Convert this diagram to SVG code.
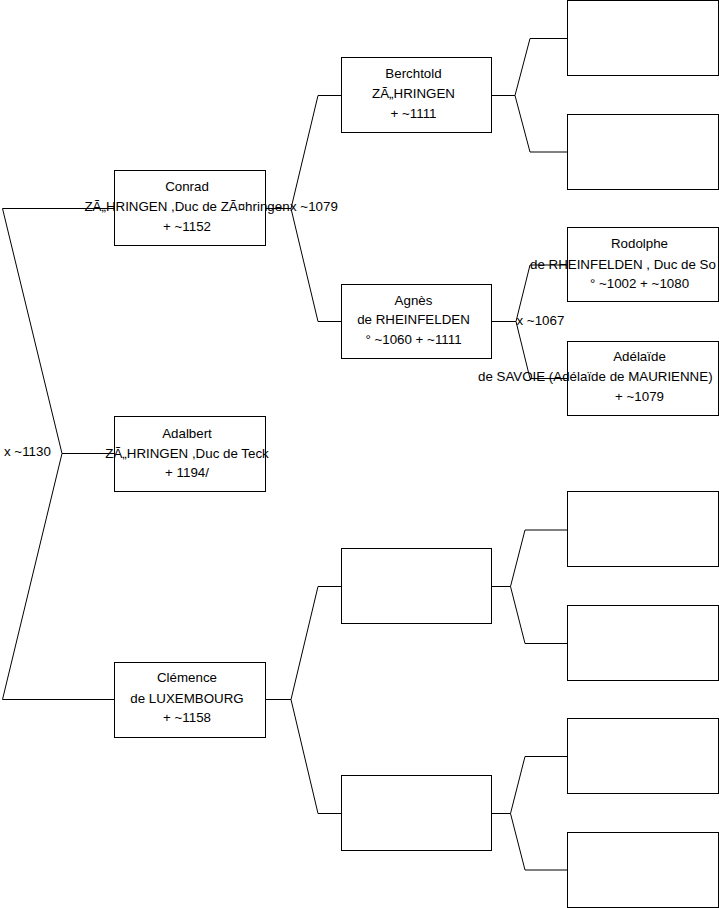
<svg xmlns="http://www.w3.org/2000/svg" width="719" height="908" viewBox="0 0 719 908">
<style>
.box{fill:#fff;stroke:#000;stroke-width:1}
.con{fill:none;stroke:#000;stroke-width:1}
text{font-family:"Liberation Sans",Arial,sans-serif;font-size:13.33px;fill:#000}
.c{text-anchor:middle}
</style>
<rect width="719" height="908" fill="#fff"/>
<g id="connectors">
<path class="con" d="M114,208.5 H2.5 L62,453.5 L2.5,699.5 H114 M62,453.5 H114"/>
<path class="con" d="M265,208.5 H291 L318,95.5 H341 M291,208.5 L318,321.5 H341"/>
<path class="con" d="M265,699.5 H291 L318,586.5 H341 M291,699.5 L318,813.5 H341"/>
<path class="con" d="M492,95.5 H515 L530,38.5 H567 M515,95.5 L530,152 H567"/>
<path class="con" d="M492,321.5 H516 L530,265 H567 M516,321.5 L530,378.5 H567"/>
<path class="con" d="M492,586.5 H510.5 L525,530 H567 M510.5,586.5 L525,643.5 H567"/>
<path class="con" d="M492,813.5 H510.5 L525,756.5 H567 M510.5,813.5 L525,870 H567"/>
<text x="4" y="456">x ~1130</text>
<text x="290" y="211">x ~1079</text>
<text x="516.5" y="324.5">x ~1067</text>
</g>
<g id="conrad">
<rect class="box" x="114.5" y="170.5" width="151" height="75"/>
<text class="c" x="187" y="191">Conrad</text>
<text class="c" x="187" y="211">ZÃ„HRINGEN ,Duc de ZÃ¤hringen</text>
<text class="c" x="187" y="231">+ ~1152</text>
</g>
<g id="adalbert">
<rect class="box" x="114.5" y="416.5" width="151" height="75"/>
<text class="c" x="187" y="437.5">Adalbert</text>
<text class="c" x="187" y="457.5">ZÃ„HRINGEN ,Duc de Teck</text>
<text class="c" x="187" y="477">+ 1194/</text>
</g>
<g id="clemence">
<rect class="box" x="114.5" y="662.5" width="151" height="75"/>
<text class="c" x="187" y="682">Clémence</text>
<text class="c" x="187" y="702.5">de LUXEMBOURG</text>
<text class="c" x="187" y="722">+ ~1158</text>
</g>
<g id="berchtold">
<rect class="box" x="341.5" y="57.5" width="150" height="75"/>
<text class="c" x="413.5" y="78">Berchtold</text>
<text class="c" x="413.5" y="98">ZÃ„HRINGEN</text>
<text class="c" x="413.5" y="118">+ ~1111</text>
</g>
<g id="agnes">
<rect class="box" x="341.5" y="284.5" width="150" height="74"/>
<text class="c" x="413.5" y="304.5">Agnès</text>
<text class="c" x="413.5" y="324">de RHEINFELDEN</text>
<text class="c" x="413.5" y="343.5">° ~1060 + ~1111</text>
</g>
<g id="p3">
<rect class="box" x="341.5" y="548.5" width="150" height="75"/>
</g>
<g id="p4">
<rect class="box" x="341.5" y="775.5" width="150" height="75"/>
</g>
<g id="g1"><rect class="box" x="567.5" y="0.5" width="151" height="75"/></g>
<g id="g2"><rect class="box" x="567.5" y="114.5" width="151" height="75"/></g>
<g id="rodolphe">
<rect class="box" x="567.5" y="227.5" width="151" height="74"/>
<text class="c" x="639.5" y="248">Rodolphe</text>
<text x="530" y="268.5">de RHEINFELDEN , Duc de So</text>
<text class="c" x="639.5" y="288">° ~1002 + ~1080</text>
</g>
<g id="adelaide">
<rect class="box" x="567.5" y="341.5" width="151" height="74"/>
<text class="c" x="639.5" y="360.5">Adélaïde</text>
<text x="478" y="380.5">de SAVOIE (Adélaïde de MAURIENNE)</text>
<text class="c" x="639.5" y="400.5">+ ~1079</text>
</g>
<g id="g5"><rect class="box" x="567.5" y="491.5" width="151" height="75"/></g>
<g id="g6"><rect class="box" x="567.5" y="605.5" width="151" height="75"/></g>
<g id="g7"><rect class="box" x="567.5" y="718.5" width="151" height="75"/></g>
<g id="g8"><rect class="box" x="567.5" y="832.5" width="151" height="75"/></g>
</svg>
